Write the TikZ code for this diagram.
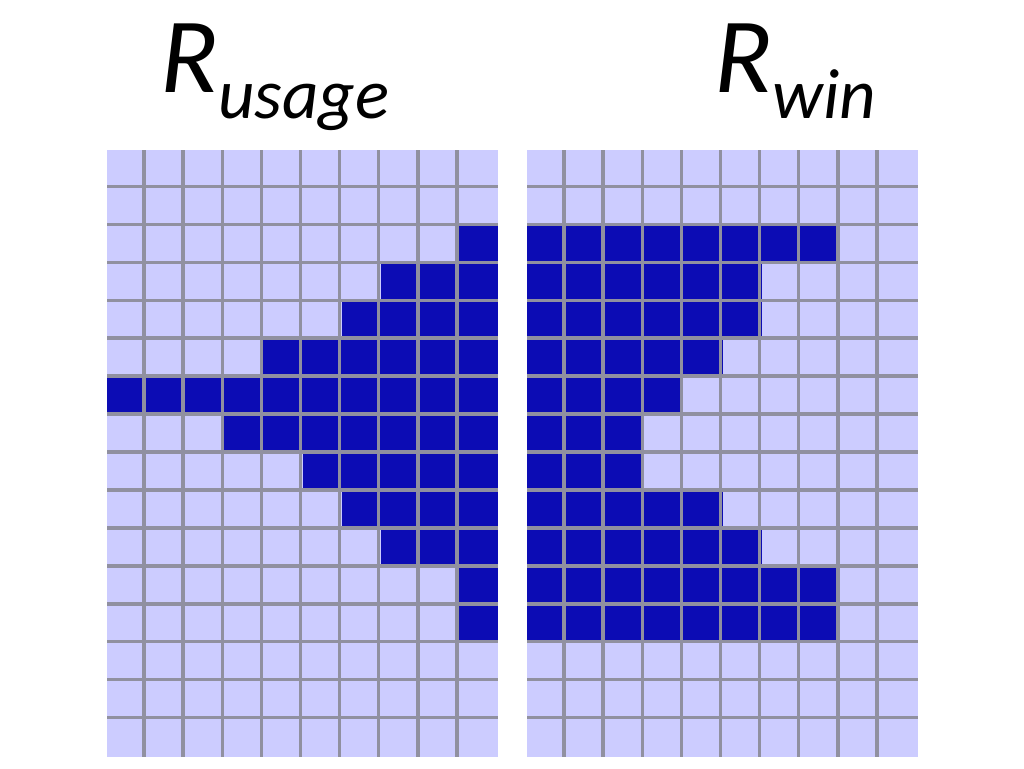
\documentclass[tikz,border=0pt]{standalone}
\usepackage{fontspec}
\newfontfamily\labfont{Carlito}
\definecolor{celllight}{RGB}{204,204,255}
\definecolor{celldark}{RGB}{12,12,180}
\definecolor{gridgray}{RGB}{144,144,160}
\tikzset{
  gridline/.style={draw=gridgray, line width=3.5pt},
  darkcell/.style={fill=celldark},
  lightbg/.style={fill=celllight},
  biglabel/.style={inner sep=0pt, anchor=base west, font=\labfont\itshape}
}
\newcommand{\cw}{39.1}
\newcommand{\ch}{37.94}
\begin{document}
\begin{tikzpicture}[x=1pt,y=-1pt]
\useasboundingbox (0,0) rectangle (1024,768);
% left grid
\fill[lightbg] (107,150) rectangle (498,757);
\foreach \r/\cs in {2/{9},3/{7,8,9},4/{6,7,8,9},5/{4,5,6,7,8,9},6/{0,1,2,3,4,5,6,7,8,9},7/{3,4,5,6,7,8,9},8/{5,6,7,8,9},9/{6,7,8,9},10/{7,8,9},11/{9},12/{9}}{
  \foreach \c in \cs {
    \fill[darkcell] ({107+\c*\cw},{150+\r*\ch}) rectangle ({107+(\c+1)*\cw},{150+(\r+1)*\ch});
  }
}
\foreach \i in {1,...,9} \draw[gridline] ({107+\i*\cw-2},150) -- ({107+\i*\cw-2},757);
\foreach \j in {1,...,15} \draw[gridline] (107,{150+\j*\ch-1.5}) -- (498,{150+\j*\ch-1.5});
% right grid
\fill[lightbg] (527,150) rectangle (918,757);
\foreach \r/\cs in {2/{0,1,2,3,4,5,6,7},3/{0,1,2,3,4,5},4/{0,1,2,3,4,5},5/{0,1,2,3,4},6/{0,1,2,3},7/{0,1,2},8/{0,1,2},9/{0,1,2,3,4},10/{0,1,2,3,4,5},11/{0,1,2,3,4,5,6,7},12/{0,1,2,3,4,5,6,7}}{
  \foreach \c in \cs {
    \fill[darkcell] ({527+\c*\cw},{150+\r*\ch}) rectangle ({527+(\c+1)*\cw},{150+(\r+1)*\ch});
  }
}
\foreach \i in {1,...,9} \draw[gridline] ({527+\i*\cw-2},150) -- ({527+\i*\cw-2},757);
\foreach \j in {1,...,15} \draw[gridline] (527,{150+\j*\ch-1.5}) -- (918,{150+\j*\ch-1.5});
% labels
\node[biglabel] (rusage) at (160,92) {\fontsize{107}{107}\selectfont R\raisebox{-26pt}{\fontsize{71}{71}\selectfont usage}};
\node[biglabel] (rwin) at (714,92) {\fontsize{107}{107}\selectfont R\raisebox{-26pt}{\fontsize{71}{71}\selectfont win}};
\end{tikzpicture}
\end{document}
